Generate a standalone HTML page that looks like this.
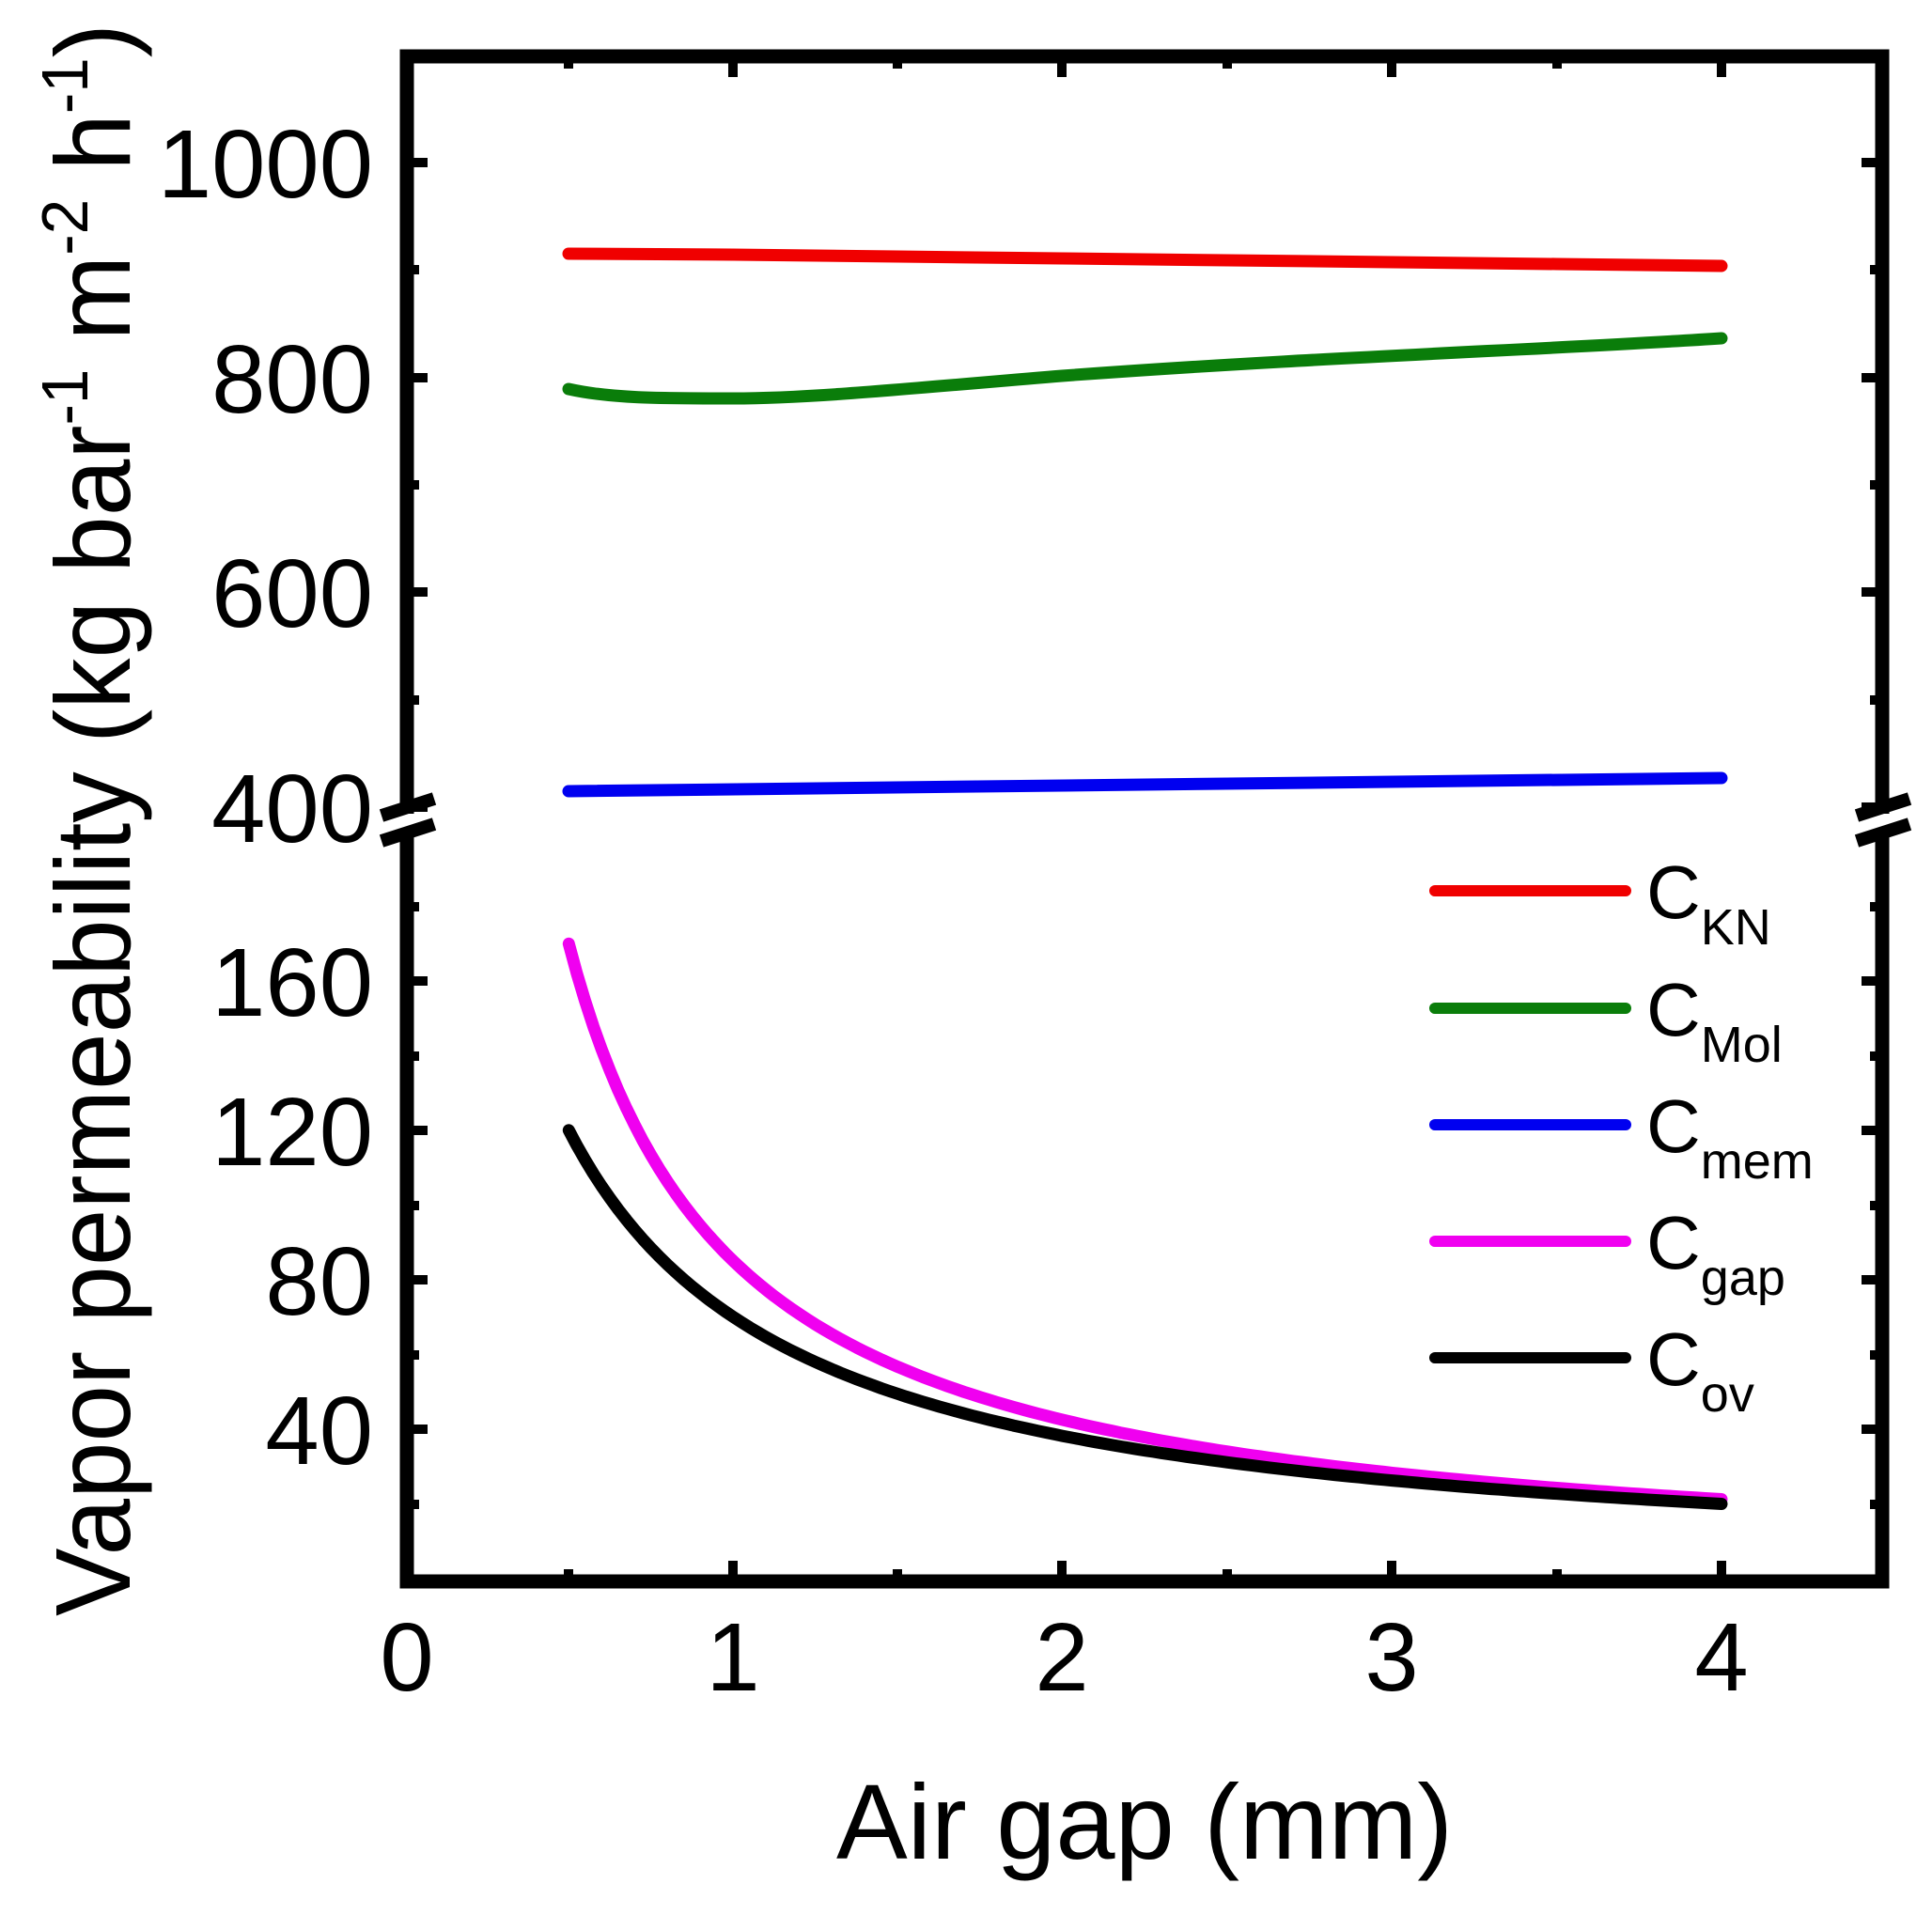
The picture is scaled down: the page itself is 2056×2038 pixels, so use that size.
<!DOCTYPE html>
<html><head><meta charset="utf-8"><style>html,body{margin:0;padding:0;background:#fff}svg{display:block}</style></head>
<body>
<svg xmlns="http://www.w3.org/2000/svg" width="2056" height="2038" viewBox="0 0 2056 2038" font-family="Liberation Sans, Arial, sans-serif">
<rect width="2056" height="2038" fill="#fff"/>
<g stroke="#000" stroke-width="15" fill="none">
  <path d="M433,866 L433,60 L2003,60 L2003,866"/>
  <path d="M433,884 L433,1683 L2003,1683 L2003,884"/>
</g>
<g stroke="#000" stroke-width="14">
  <line x1="406" y1="868" x2="462" y2="850"/>
  <line x1="406" y1="895" x2="462" y2="877"/>
  <line x1="1976" y1="868" x2="2032" y2="850"/>
  <line x1="1976" y1="895" x2="2032" y2="877"/>
</g>
<g stroke="#000" stroke-width="10">
  <path d="M780,1683 v-22 M1130,1683 v-22 M1481,1683 v-22 M1832,1683 v-22
           M605,1683 v-13 M955,1683 v-13 M1306,1683 v-13 M1657,1683 v-13
           M780,60 v22 M1130,60 v22 M1481,60 v22 M1832,60 v22
           M605,60 v13 M955,60 v13 M1306,60 v13 M1657,60 v13"/>
  <path d="M433,173 h22 M433,402 h22 M433,630 h22 M433,859 h22
           M433,287 h13 M433,516 h13 M433,745 h13
           M2003,173 h-22 M2003,402 h-22 M2003,630 h-22 M2003,859 h-22
           M2003,287 h-13 M2003,516 h-13 M2003,745 h-13"/>
  <path d="M433,1044 h22 M433,1203 h22 M433,1362 h22 M433,1521 h22
           M433,965 h13 M433,1124 h13 M433,1283 h13 M433,1442 h13 M433,1601 h13
           M2003,1044 h-22 M2003,1203 h-22 M2003,1362 h-22 M2003,1521 h-22
           M2003,965 h-13 M2003,1124 h-13 M2003,1283 h-13 M2003,1442 h-13 M2003,1601 h-13"/>
</g>
<g font-size="103" fill="#000" text-anchor="end">
  <text x="397" y="210">1000</text>
  <text x="397" y="439">800</text>
  <text x="397" y="667">600</text>
  <text x="397" y="896">400</text>
  <text x="397" y="1081">160</text>
  <text x="397" y="1240">120</text>
  <text x="397" y="1399">80</text>
  <text x="397" y="1558">40</text>
</g>
<g font-size="103" fill="#000" text-anchor="middle">
  <text x="433" y="1799">0</text>
  <text x="780" y="1799">1</text>
  <text x="1130" y="1799">2</text>
  <text x="1481" y="1799">3</text>
  <text x="1832" y="1799">4</text>
</g>
<text x="890" y="1978" font-size="113" textLength="656" lengthAdjust="spacingAndGlyphs">Air gap (mm)</text>
<text transform="translate(138,1720) rotate(-90)" font-size="113" textLength="1695" lengthAdjust="spacingAndGlyphs">Vapor permeability (kg bar<tspan font-size="70" dy="-45">-1</tspan><tspan dy="45"> m</tspan><tspan font-size="70" dy="-45">-2</tspan><tspan dy="45"> h</tspan><tspan font-size="70" dy="-45">-1</tspan><tspan dy="45">)</tspan></text>
<g fill="none" stroke-width="13" stroke-linecap="round" stroke-linejoin="round">
  <path stroke="#f00000" d="M605,270 L780,271 L955,273 L1130,275 L1306,277 L1481,279 L1657,281 L1832,283"/>
  <path stroke="#0a7d0a" d="M605,414 C650,424 700,424 780,424 C860,424 950,415 1130,400 C1400,380 1650,372 1832,360"/>
  <path stroke="#0000f0" d="M605,842 L1832,828"/>
  <path id="gap" stroke="#f000f0" d=""/>
  <path id="ov" stroke="#000" d=""/>
</g>
<g stroke-width="12" stroke-linecap="round">
  <line x1="1527" y1="948" x2="1730" y2="948" stroke="#f00000"/>
  <line x1="1527" y1="1073" x2="1730" y2="1073" stroke="#0a7d0a"/>
  <line x1="1527" y1="1197" x2="1730" y2="1197" stroke="#0000f0"/>
  <line x1="1527" y1="1321" x2="1730" y2="1321" stroke="#f000f0"/>
  <line x1="1527" y1="1445" x2="1730" y2="1445" stroke="#000"/>
</g>
<g font-size="80" fill="#000">
  <text x="1752" y="977">C<tspan font-size="54" dy="28">KN</tspan></text>
  <text x="1752" y="1102">C<tspan font-size="54" dy="28">Mol</tspan></text>
  <text x="1752" y="1226">C<tspan font-size="54" dy="28">mem</tspan></text>
  <text x="1752" y="1350">C<tspan font-size="54" dy="28">gap</tspan></text>
  <text x="1752" y="1474">C<tspan font-size="54" dy="28">ov</tspan></text>
</g>
<script>
(function(){
  function X(x){return 430+350.5*x;}
  function Y(v){return 1521-(v-40)*3.975;}
  var g="",o="";
  for(var i=0;i<=140;i++){
    var x=0.5+3.5*i/140;
    var vg=85/x, vo=1/(0.00238+0.0119*x);
    g+=(i?"L":"M")+X(x).toFixed(1)+","+Y(vg).toFixed(1);
    o+=(i?"L":"M")+X(x).toFixed(1)+","+Y(vo).toFixed(1);
  }
  document.getElementById("gap").setAttribute("d",g);
  document.getElementById("ov").setAttribute("d",o);
})();
</script>
</svg>
</body></html>
